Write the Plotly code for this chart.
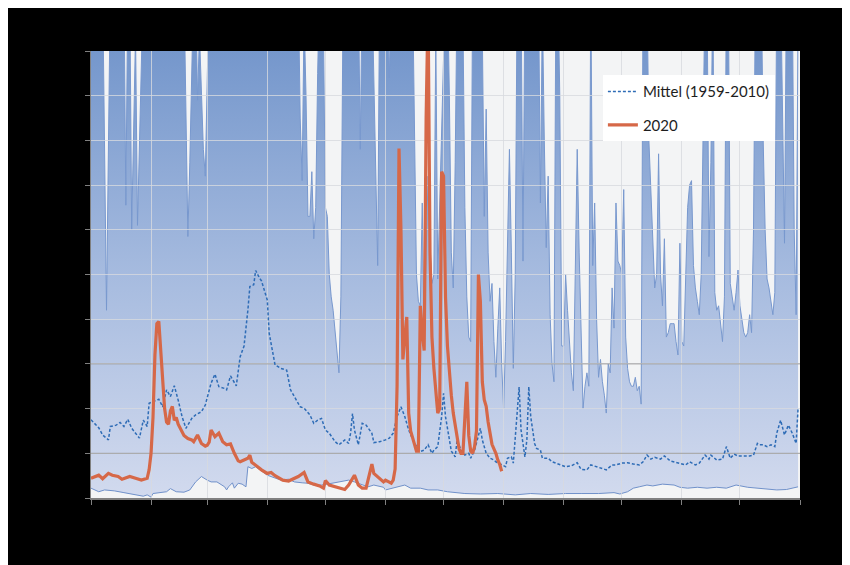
import pandas as pd
import plotly.graph_objects as go

# ---------------- data (day offsets from 2020-01-01, values in axis units 0..10) ----------------
TOP = 11.5  # values above the visible axis range (clipped by the chart)

max_days = [0, 6, 8, 10, 17, 18, 19, 20, 21, 22, 23, 24, 25, 26, 27,
            48, 49, 50, 51, 52, 53, 54, 55, 56, 57, 58, 59, 60, 61,
            107, 108, 109, 110, 111, 112, 113, 114, 115, 116, 117, 118, 119, 120,
            121, 122, 123, 124, 125, 126, 127, 128, 129, 130, 131,
            138, 139, 140, 145, 146, 147, 148, 149, 153, 154, 155,
            166, 167, 168, 169, 170, 171, 172, 173, 174, 175, 176, 177, 178, 179,
            183, 184, 185, 186, 187, 188, 189, 191, 192, 193, 194, 195, 196, 197,
            201, 202, 203, 204, 205, 206, 207, 208, 209, 210, 211, 212, 213, 214,
            215, 216, 217, 218, 219, 220, 222, 223, 224, 231, 232, 233, 234, 235,
            236, 237, 238, 239, 240, 241, 242, 243, 244, 245, 246, 247, 248, 249,
            250, 251, 252, 253, 254, 255, 256, 257, 258, 259, 260, 261, 262, 263,
            264, 265, 266, 267, 268, 269, 270, 271, 272, 273, 274, 275, 276, 277,
            278, 279, 280, 281, 282, 283, 284, 285, 287, 288, 289, 290, 291, 292,
            293, 294, 295, 296, 297, 298, 299, 300, 301, 302, 303, 304, 305, 306,
            307, 308, 309, 310, 311, 312, 313, 314, 315, 316, 317, 318, 319, 320,
            321, 322, 323, 324, 325, 326, 327, 328, 329, 330, 331, 332, 333, 334,
            335, 336, 337, 338, 339, 340, 341, 342, 343, 346, 347, 348, 349, 350,
            351, 352, 353, 354, 356, 357, 358, 359, 362, 363, 364, 365]
max_vals = [TOP, TOP, 4.2, TOP, TOP, 6.55, TOP, TOP, 6.0, 9.0, 10.4, 6.1, 7.6, 9.6, TOP,
            TOP, 9.0, 5.85, 7.5, 9.7, TOP, TOP, 8.9, 10.4, 9.0, 7.8, 7.2, 8.8, TOP,
            TOP, 8.5, 7.1, 10.8, 9.0, 6.3, 6.3, 7.3, 5.8, 6.5, 9.5, TOP, TOP, 10.5,
            6.5, 6.3, 5.0, 4.5, 4.2, 3.7, 3.3, 2.8, 4.5, 10.5, TOP,
            TOP, 7.8, TOP, TOP, 9.3, 6.8, 5.2, TOP, TOP, 9.4, TOP,
            TOP, 8.5, 5.0, 4.4, 4.3, 6.6, 3.5, 5.5, 7.2, 5.6, 4.8, 5.0, 10.4, 4.9,
            TOP, TOP, 9.0, 5.5, 4.7, 7.5, TOP, TOP, 10.8, 6.5, 4.5, 3.6, 3.5, TOP,
            TOP, 10.5, 6.3, 8.7, 5.5, 4.4, 4.8, 3.5, 2.7, 3.8, 4.7, 3.0, 2.0, 3.5,
            5.5, 7.8, 5.5, 2.9, 5.0, TOP, TOP, 5.3, TOP, TOP, 6.6, 11.0, 8.0, 5.6,
            7.2, 4.1, 3.0, 2.6, TOP, TOP, 9.0, 3.4, 3.4, 5.0, 4.2, 3.5, 2.8, 2.4,
            5.0, 7.8, 5.5, 3.8, 2.0, 2.5, 2.8, 2.5, TOP, 5.2, 6.6, 4.0, 2.7, 3.1,
            2.6, 2.3, 1.9, 3.0, 2.8, 4.7, 3.8, 6.6, 5.3, 5.2, 5.0, 6.9, 3.6, 2.9,
            2.6, 2.5, 2.5, 2.7, 2.4, 2.5, 2.1, TOP, TOP, 8.0, 6.9, 5.5, 4.7, 5.0,
            7.7, 5.0, 4.3, 5.8, 3.6, 3.7, 3.9, 3.9, 3.9, 3.5, 3.2, 5.7, 3.5, 3.4,
            5.0, 6.5, 7.0, 7.1, 5.2, 4.7, 4.4, 4.1, 5.0, 8.5, TOP, TOP, 5.4, 7.5,
            TOP, 4.6, 4.2, 4.3, 3.9, 3.5, 4.5, TOP, TOP, 4.8, 4.5, 4.2, 4.6, 5.1,
            4.3, 4.0, 3.7, 3.6, 3.7, 4.1, 3.7, 6.0, TOP, TOP, 8.0, 6.0, 4.9, 4.7,
            4.4, 4.1, 4.6, TOP, TOP, 9.0, 5.7, TOP, TOP, 6.0, 4.1, 10.8]

min_days = [0, 4, 7, 12, 17, 23, 27, 29, 31, 32, 35, 39, 41, 44, 48, 51, 54, 57, 60, 62,
            65, 67, 69, 70, 71, 73, 74, 76, 78, 80, 81, 83, 85, 91, 95, 98, 102, 105, 109,
            112, 115, 119, 122, 126, 129, 133, 136, 140, 143, 146, 151, 152, 156, 159, 162,
            165, 170, 174, 179, 184, 193, 201, 210, 219, 227, 236, 245, 253, 262, 270, 273,
            277, 280, 283, 287, 290, 295, 301, 304, 308, 313, 318, 323, 328, 333, 339, 344,
            349, 354, 359, 363, 365]
min_vals = [0.22, 0.14, 0.18, 0.16, 0.12, 0.07, 0.04, 0.07, 0.02, 0.10, 0.12, 0.14, 0.21,
            0.14, 0.13, 0.18, 0.36, 0.48, 0.40, 0.36, 0.36, 0.31, 0.25, 0.18, 0.25, 0.34,
            0.22, 0.33, 0.31, 0.25, 0.70, 0.66, 0.70, 0.51, 0.44, 0.40, 0.42, 0.36, 0.34,
            0.33, 0.29, 0.29, 0.31, 0.34, 0.36, 0.40, 0.36, 0.29, 0.25, 0.29, 0.24, 0.18,
            0.22, 0.25, 0.29, 0.22, 0.22, 0.18, 0.18, 0.14, 0.10, 0.09, 0.10, 0.07, 0.10,
            0.08, 0.10, 0.10, 0.10, 0.12, 0.09, 0.14, 0.22, 0.25, 0.29, 0.27, 0.31, 0.29,
            0.24, 0.22, 0.24, 0.22, 0.24, 0.22, 0.29, 0.24, 0.22, 0.19, 0.18, 0.19, 0.24,
            0.25]

mean_days = [0, 2, 4, 6, 9, 10, 13, 15, 17, 19, 21, 23, 25, 27, 29, 30, 33, 35, 37, 39,
             41, 43, 45, 47, 49, 52, 54, 57, 59, 61, 62, 64, 66, 69, 70, 72, 75, 77, 79,
             81, 82, 84, 85, 87, 88, 91, 92, 95, 98, 101, 103, 106, 108, 110, 113, 115,
             117, 119, 121, 123, 126, 128, 131, 133, 134, 135, 136, 138, 140, 142, 145,
             146, 149, 152, 154, 156, 158, 160, 162, 164, 165, 167, 170, 172, 174, 176,
             177, 179, 181, 182, 183, 186, 188, 189, 191, 193, 195, 196, 198, 201, 202,
             204, 206, 208, 209, 212, 214, 215, 217, 218, 219, 221, 222, 224, 225, 226,
             227, 229, 230, 232, 233, 236, 238, 240, 243, 245, 248, 251, 253, 256, 258,
             261, 263, 266, 269, 271, 274, 277, 280, 283, 285, 287, 289, 291, 294, 296,
             299, 301, 304, 307, 309, 312, 314, 317, 319, 320, 323, 326, 328, 330, 332,
             334, 337, 340, 342, 344, 345, 347, 349, 351, 353, 354, 356, 357, 358, 360,
             362, 364, 365]
mean_vals = [1.75, 1.67, 1.57, 1.41, 1.30, 1.60, 1.63, 1.69, 1.60, 1.76, 1.56, 1.45, 1.34,
             1.74, 1.60, 2.12, 2.18, 2.21, 2.04, 2.42, 2.27, 2.51, 2.19, 1.82, 1.56, 1.78,
             1.86, 1.93, 2.08, 2.42, 2.57, 2.77, 2.49, 2.45, 2.42, 2.73, 2.51, 3.16, 3.40,
             4.21, 4.73, 4.77, 5.09, 4.92, 4.86, 4.43, 3.68, 2.98, 2.90, 2.86, 2.42, 2.19,
             2.04, 2.01, 1.86, 1.67, 1.74, 1.78, 1.52, 1.45, 1.26, 1.19, 1.30, 1.22, 1.45,
             1.89, 1.52, 1.19, 1.67, 1.63, 1.45, 1.24, 1.26, 1.30, 1.34, 1.45, 1.82, 2.04,
             1.82, 1.52, 1.41, 1.22, 1.04, 1.07, 1.19, 1.00, 1.07, 1.15, 1.82, 2.34, 1.82,
             1.05, 0.92, 1.30, 1.07, 0.96, 1.00, 0.89, 1.07, 1.56, 1.30, 1.00, 0.89, 0.85,
             0.81, 0.74, 0.70, 0.89, 0.92, 0.78, 1.30, 2.48, 1.52, 0.92, 1.30, 2.49, 1.82,
             1.22, 1.11, 1.07, 0.89, 0.89, 0.81, 0.78, 0.74, 0.70, 0.72, 0.79, 0.64, 0.63,
             0.74, 0.70, 0.66, 0.63, 0.74, 0.74, 0.78, 0.79, 0.76, 0.74, 0.81, 0.96, 0.87,
             0.91, 0.87, 0.94, 0.83, 0.81, 0.78, 0.74, 0.81, 0.74, 0.78, 0.96, 0.87, 0.96,
             0.85, 0.87, 1.15, 0.89, 0.98, 0.94, 0.94, 0.94, 0.96, 1.22, 1.19, 1.19, 1.15,
             1.19, 1.15, 1.45, 1.74, 1.60, 1.41, 1.63, 1.45, 1.22, 2.01]

y2020_days = [0, 3, 4, 6, 9, 11, 14, 16, 20, 23, 26, 29, 30, 31, 32, 33, 34, 35, 36, 37,
              38, 39, 40, 41, 42, 43, 44, 45, 46, 48, 50, 52, 53, 55, 57, 59, 60, 61, 62,
              63, 64, 66, 68, 70, 72, 74, 76, 77, 79, 81, 82, 83, 86, 88, 91, 93, 95, 99,
              102, 105, 107, 110, 111, 112, 115, 118, 120, 121, 123, 126, 128, 131, 133,
              136, 138, 140, 142, 144, 145, 146, 149, 151, 152, 155, 156, 157, 158, 159,
              160, 161, 162, 163, 164, 165, 166, 167, 168, 169, 170, 171, 172, 173, 174,
              175, 176, 177, 178, 179, 180, 181, 182, 183, 184, 185, 186, 187, 188, 189,
              190, 191, 192, 193, 194, 195, 196, 197, 198, 199, 200, 201, 202, 203, 204,
              205, 206, 207, 208, 209, 210, 211, 212]
y2020_vals = [0.44, 0.48, 0.51, 0.43, 0.55, 0.51, 0.48, 0.42, 0.48, 0.44, 0.40, 0.44, 0.63,
              1.0, 1.8, 3.2, 3.9, 3.95, 3.2, 2.5, 2.0, 1.7, 1.65, 1.95, 2.05, 1.74, 1.8,
              1.65, 1.56, 1.40, 1.33, 1.30, 1.26, 1.41, 1.22, 1.16, 1.18, 1.25, 1.52, 1.45,
              1.37, 1.45, 1.26, 1.19, 1.21, 1.00, 0.83, 0.81, 0.85, 0.89, 0.96, 0.80, 0.70,
              0.63, 0.55, 0.57, 0.50, 0.40, 0.38, 0.44, 0.48, 0.57, 0.45, 0.36, 0.31, 0.27,
              0.22, 0.39, 0.29, 0.25, 0.22, 0.19, 0.29, 0.51, 0.29, 0.22, 0.22, 0.55, 0.76,
              0.55, 0.44, 0.36, 0.40, 0.33, 0.40, 0.65, 2.5, 7.82, 6.0, 3.1, 3.6, 4.05, 1.9,
              1.5, 1.35, 1.2, 1.05, 1.05, 4.3, 3.7, 3.3, 8.5, 11.0, 5.5, 3.6, 2.9, 2.3, 1.9,
              2.0, 7.3, 7.2, 4.5, 3.4, 2.8, 2.3, 1.9, 1.6, 1.3, 1.1, 1.0, 1.0, 1.8, 2.6, 1.4,
              1.05, 1.0, 1.15, 1.5, 5.0, 4.4, 2.6, 2.2, 2.05, 1.7, 1.4, 1.2, 1.1, 1.0, 0.85,
              0.75, 0.6]

month_labels = ["Jan", "Feb", "Mär", "Apr", "Mai", "Jun", "Jul", "Aug", "Sep", "Okt", "Nov", "Dez", ""]
ref_levels = [1, 3]

# ---------------- helpers ----------------
START = pd.Timestamp("2020-01-01")
END = pd.Timestamp("2021-01-01")


def to_dates(days):
    return [START + pd.Timedelta(days=int(d)) for d in days]


month_ticks = list(pd.date_range(START, END, freq="MS"))

fig = go.Figure()

# band between minimum and maximum (subplot 1, underneath grid)
fig.add_trace(go.Scatter(x=to_dates(min_days), y=min_vals, mode="lines",
                         line=dict(color="rgb(112,145,202)", width=1),
                         showlegend=False, hoverinfo="skip", xaxis="x", yaxis="y"))
fig.add_trace(go.Scatter(x=to_dates(max_days), y=max_vals, mode="lines",
                         line=dict(color="rgb(120,152,206)", width=1),
                         fill="tonexty",
                         fillgradient=dict(type="vertical", start=0, stop=10,
                                           colorscale=[[0, "rgb(210,218,238)"],
                                                       [0.5, "rgb(166,187,223)"],
                                                       [1, "rgb(117,151,204)"]]),
                         showlegend=False, hoverinfo="skip", xaxis="x", yaxis="y"))

# lines (subplot 2, above grid)
fig.add_trace(go.Scatter(x=to_dates(mean_days), y=mean_vals, mode="lines",
                         name="Mittel (1959-2010)", legendgroup="a",
                         line=dict(color="rgb(46,108,182)", width=1.5, dash="3px,2px"),
                         xaxis="x2", yaxis="y2"))
fig.add_trace(go.Scatter(x=to_dates(y2020_days), y=y2020_vals, mode="lines",
                         name="2020", legendgroup="b",
                         line=dict(color="rgb(214,104,72)", width=3.2),
                         xaxis="x2", yaxis="y2"))

for lv in ref_levels:
    fig.add_shape(type="line", xref="x2", yref="y2", x0=START, x1=END, y0=lv, y1=lv,
                  line=dict(color="rgb(160,160,160)", width=1), layer="between")

# plot-area background
fig.add_shape(type="rect", xref="paper", yref="paper", x0=0, x1=1, y0=0, y1=1,
              fillcolor="rgb(243,244,245)", line=dict(width=0), layer="below")

fig.update_layout(
    width=850, height=565,
    margin=dict(l=83, r=58, t=43, b=75),
    paper_bgcolor="black",
    plot_bgcolor="rgba(0,0,0,0)",
    xaxis=dict(range=[START, END], visible=False, fixedrange=True),
    yaxis=dict(range=[0, 10], visible=False, fixedrange=True),
    xaxis2=dict(range=[START, END], anchor="y2", tickmode="array",
                tickvals=month_ticks, ticktext=month_labels,
                showgrid=True, gridcolor="rgba(215,218,222,0.8)", gridwidth=1,
                showline=True, linecolor="rgb(128,128,128)", linewidth=2,
                ticks="outside", ticklen=5, tickcolor="rgb(128,128,128)",
                tickfont=dict(color="black", size=12)),
    yaxis2=dict(range=[0, 10], anchor="x2", dtick=1, tick0=0,
                showgrid=True, gridcolor="rgba(215,218,222,0.8)", gridwidth=1,
                showline=True, linecolor="rgb(128,128,128)", linewidth=1,
                ticks="outside", ticklen=5, tickcolor="rgb(128,128,128)",
                zeroline=False, tickfont=dict(color="black", size=12)),
    legend=dict(x=0.722, y=0.946, xanchor="left", yanchor="top",
                bgcolor="white", borderwidth=0, tracegroupgap=11,
                font=dict(family="Lato", size=15, color="rgb(30,30,30)")),
    showlegend=True,
)

fig.write_html("out.html")
